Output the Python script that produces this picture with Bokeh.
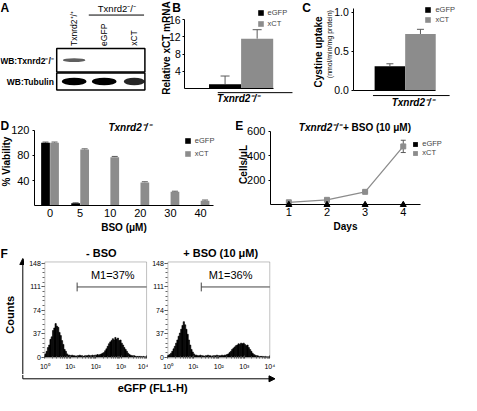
import numpy as np
from bokeh.plotting import figure
from bokeh.layouts import row, column
from bokeh.models import (Range1d, FixedTicker, Label, Arrow, NormalHead, TeeHead,
                          Whisker, ColumnDataSource, Legend, LegendItem, BoxAnnotation)
from bokeh.embed import file_html
from bokeh.resources import INLINE

FONT = "Liberation Sans"
BLACK = "#000000"
GRAY = "#8c8c8c"
ERRC = "#5a5a5a"

# ---------------- data ----------------
series = ["eGFP", "xCT"]
# A: western blot (relative band intensities per lane)
lanes = ["Txnrd2⁺/⁺", "eGFP", "xCT"]
blot_rows = ["WB:Tubulin", "WB:Txnrd2⁻/⁻"]
band_txnrd2 = [0.75, 0.0, 0.0]
band_tubulin = [1.0, 1.0, 0.85]
# B: relative xCT mRNA
mrna_mean = [1.0, 11.6]
mrna_err = [1.9, 2.1]
# C: cystine uptake
uptake_mean = [0.31, 0.72]
uptake_err = [0.03, 0.06]
# D: viability vs BSO
bso_doses = ["0", "5", "10", "20", "30", "40"]
via_egfp = [100, 4, 0, 0, 0, 0]
via_xct = [100, 89, 77, 37, 22, 8]
via_egfp_err = [1.0, 0.6, 0, 0, 0, 0]
via_xct_err = [1.0, 1.2, 1.2, 1.0, 1.0, 1.0]
# E: growth with BSO (10 uM)
days = [1, 2, 3, 4]
cells_egfp = [0, 0, 0, 0]
cells_xct = [20, 40, 105, 475]
cells_xct_err = [3, 4, 5, 50]
# F: flow cytometry histograms (80 log-bins over 10^0..10^4)
hist_minus_bso = [5, 9, 15, 19, 28, 32, 42, 46, 53, 49, 47, 39, 34, 26, 20, 12, 9, 5, 3, 3,
                  2, 3, 2, 2, 1, 2, 2, 3, 2, 2, 1, 2, 2, 2, 3, 2, 2, 3, 2, 3, 3, 4, 3, 4, 5, 6,
                  7, 10, 13, 17, 21, 24, 26, 29, 27, 31, 28, 30, 26, 27, 22, 19, 15, 12, 9, 6, 4, 3, 2, 2,
                  2, 1, 1, 1, 1, 1, 0, 1, 0, 0]
hist_plus_bso = [3, 4, 6, 9, 13, 17, 22, 27, 33, 38, 44, 50, 56, 51, 44, 36, 27, 19, 12, 8, 5, 3,
                 3, 2, 2, 3, 2, 2, 1, 2, 2, 3, 2, 2, 1, 2, 2, 2, 3, 2, 2, 2, 3, 2, 3, 3, 4, 5, 7, 9,
                 12, 14, 16, 18, 19, 21, 20, 22, 21, 22, 20, 18, 19, 15, 12, 9, 6, 4, 3, 2,
                 2, 1, 1, 1, 1, 0, 1, 0, 0, 0]
gate_pct = [37, 36]
gate_start = [1.27, 1.31]
gate_level = 111
count_ticks = [0, 37, 74, 111, 148]
decade_labels = ["10⁰", "10¹", "10²", "10³", "10⁴"]

# ---------------- layout helpers ----------------
S = 0.97
O = 4.0


def sc(v):
    return (v - O) * S


class Panel:
    """A figure whose plotting frame fills its whole box; axes are pinned at the
    edges of an inner 'plot area' (given in reference pixels) with fixed_location."""

    def __init__(self, box, area, xr, yr, xloc="below", yloc="left"):
        bx0, by0, bx1, by1 = box
        ax0, ay0, ax1, ay1 = area
        dx = (xr[1] - xr[0]) / (ax1 - ax0)
        dy = (yr[1] - yr[0]) / (ay1 - ay0)
        x_range = Range1d(xr[0] - (ax0 - bx0) * dx, xr[1] + (bx1 - ax1) * dx)
        y_range = Range1d(yr[0] - (by1 - ay1) * dy, yr[1] + (ay0 - by0) * dy)
        self.x0 = round(sc(bx0))
        self.y1 = round(sc(by1))
        W = round(sc(bx1)) - self.x0
        H = self.y1 - round(sc(by0))
        p = figure(width=W, height=H, x_range=x_range, y_range=y_range,
                   x_axis_location=xloc, y_axis_location=yloc,
                   output_backend="svg", toolbar_location=None,
                   min_border_left=0, min_border_right=0, min_border_top=0, min_border_bottom=0)
        if "frame_align" in p.properties():
            p.frame_align = False
        p.outline_line_color = None
        p.grid.visible = False
        p.background_fill_color = "white"
        p.border_fill_color = "white"
        for ax in p.yaxis:
            ax.fixed_location = xr[0]
        for ax in p.xaxis:
            ax.fixed_location = yr[1] if xloc == "above" else yr[0]
        self.p = p

    def sx(self, rx):
        return sc(rx) - self.x0

    def sy(self, ry):
        return self.y1 - sc(ry)

    def text(self, rx, ry, txt, size="10px", style="normal", align="center", angle=0.0,
             baseline="middle", color="black"):
        self.p.add_layout(Label(x=self.sx(rx), y=self.sy(ry), x_units="screen", y_units="screen",
                                text=txt, text_font=FONT, text_font_size=size,
                                text_font_style=style, text_align=align, text_baseline=baseline,
                                angle=angle, text_color=color))

    def letter(self, rx, ry, txt):
        self.text(rx, ry, txt, size="12px", style="bold", align="left", baseline="top")

    def line(self, rx0, ry0, rx1, ry1, head=False, color="black", width=1.0):
        end = NormalHead(size=6, fill_color=color, line_color=color, line_width=1) if head else None
        self.p.add_layout(Arrow(x_start=self.sx(rx0), y_start=self.sy(ry0),
                                x_end=self.sx(rx1), y_end=self.sy(ry1),
                                start_units="screen", end_units="screen", start=None, end=end,
                                line_color=color, line_width=width))

    def legend(self, items, rx, ry_bottom, glyph=7, size="7.5px", spacing=2):
        lg = Legend(items=[LegendItem(label=l, renderers=[r]) for l, r in items],
                    location=(self.sx(rx), self.sy(ry_bottom)), orientation="vertical",
                    glyph_width=glyph, glyph_height=glyph, label_height=glyph, label_width=10,
                    label_text_font=FONT, label_text_font_size=size, label_standoff=4,
                    spacing=spacing, padding=0, margin=0, border_line_color=None,
                    background_fill_alpha=0)
        self.p.add_layout(lg)


def style_axis(ax, size="11px", standoff=3):
    ax.major_label_text_font = FONT
    ax.major_label_text_font_size = size
    ax.major_label_text_color = "black"
    ax.axis_label_text_font = FONT
    ax.axis_label_text_font_size = "10px"
    ax.axis_label_text_font_style = "bold"
    ax.axis_label_text_color = "black"
    ax.major_label_standoff = standoff
    ax.major_tick_in = 0
    ax.major_tick_out = 2
    ax.minor_tick_in = 0
    ax.minor_tick_out = 0
    ax.axis_line_color = "black"
    ax.axis_line_width = 1


def hide_x_axis(ax, bounds):
    ax.ticker = FixedTicker(ticks=[])
    ax.major_tick_out = 0
    ax.minor_tick_out = 0
    ax.major_label_text_font_size = "0px"
    ax.axis_line_color = "black"
    ax.axis_line_width = 1.2
    ax.bounds = bounds


def bar_pair(P, xs, means, errs, width, head):
    rs = []
    for i, (name, col) in enumerate(zip(series, [BLACK, GRAY])):
        r = P.p.vbar(x=[xs[i]], top=[means[i]], width=width, fill_color=col, line_color=None)
        rs.append((name, r))
    src = ColumnDataSource(dict(x=list(xs), lower=list(means),
                                upper=[m + e for m, e in zip(means, errs)]))
    P.p.add_layout(Whisker(source=src, base="x", lower="lower", upper="upper", dimension="height",
                           lower_head=None, upper_head=TeeHead(size=head, line_color=ERRC, line_width=1),
                           line_color=ERRC, line_width=1))
    return rs


# ---------------- A: western blot ----------------
A = Panel((4, 4, 166, 124), (60, 53, 155, 97),
          ((60 - 80) / 31, (155 - 80) / 31), (-0.42, 1.58), xloc="above", yloc=None)
pA = A.p
lane_x = [float(i) for i in range(len(lanes))]
row_y = [float(i) for i in range(len(blot_rows))]
pA.rect(x=((62 + 153) / 2 - 80) / 31, y=row_y, width=91 / 31, height=[0.8, 1.1],
        fill_color="white", line_color="black", line_width=1.5)
pA.ellipse(x=lane_x, y=row_y[1], width=0.75, height=0.18, fill_color="#2a2a2a",
           fill_alpha=band_txnrd2, line_color=None)
pA.ellipse(x=lane_x, y=row_y[0], width=[0.82 * b for b in band_tubulin], height=0.36,
           fill_color="black", fill_alpha=band_tubulin, line_color=None)
xa = pA.xaxis[0]
style_axis(xa, size="8.5px", standoff=2)
xa.ticker = FixedTicker(ticks=lane_x)
xa.major_label_overrides = {i: l for i, l in enumerate(lanes)}
xa.major_label_orientation = "vertical"
xa.axis_line_color = None
xa.major_tick_out = 0
A.text(59, 66, blot_rows[1], size="8.5px", style="bold", align="right")
A.text(59, 88, blot_rows[0], size="8.5px", style="bold", align="right")
A.text(124, 12, "Txnrd2⁻/⁻", size="9.5px")
A.line(95, 19, 152, 19)
A.letter(4, 4.5, "A")

# ---------------- B: relative xCT mRNA ----------------
B = Panel((166, 4, 310, 124), (194, 10, 305, 95),
          ((194 - 252) / 33, (305 - 252) / 33), (0, 16 + (24 - 10) * 16 / 71))
pB = B.p
xsB = [i - 0.5 for i in range(len(series))]
rsB = bar_pair(B, xsB, mrna_mean, mrna_err, 1.0, 9)
ya = pB.yaxis[0]
style_axis(ya, size="10.5px", standoff=2)
ya.ticker = FixedTicker(ticks=[4, 8, 12, 16])
ya.bounds = (0, 16)
hide_x_axis(pB.xaxis[0], ((194 - 252) / 33, 1.0))
B.text(175, 53, "Relative xCT mRNA", size="10px", style="bold", angle=np.pi / 2)
B.line(228, 99, 305, 99)
B.text(249, 105, "Txnrd2⁻/⁻", size="10px", style="bold italic")
B.legend(rsB, 268.5, 32.5, spacing=2)
B.letter(181, 4.5, "B")

# ---------------- C: cystine uptake ----------------
C = Panel((310, 4, 477, 124), (368, 5, 475, 97),
          ((368 - 421) / 31.5, (475 - 421) / 31.5), (0, 1 + (16 - 5) / 81))
pC = C.p
rsC = bar_pair(C, xsB, uptake_mean, uptake_err, 1.0, 7)
ya = pC.yaxis[0]
style_axis(ya, size="10.5px", standoff=3)
ya.ticker = FixedTicker(ticks=[0, 0.5, 1.0])
ya.major_label_overrides = {0: "0.0", 0.5: "0.5", 1: "1.0"}
ya.bounds = (0, 1.04)
hide_x_axis(pC.xaxis[0], ((368 - 421) / 31.5, 1.0))
C.text(332, 57, "Cystine uptake", size="10px", style="bold", angle=np.pi / 2)
C.text(343, 49, "(nmol/min/mg protein)", size="7px", angle=np.pi / 2)
C.line(388, 102, 467, 102)
C.text(429, 109, "Txnrd2⁻/⁻", size="10px", style="bold italic")
C.legend(rsC, 441.5, 28.5, spacing=1)
C.letter(315, 4.5, "C")

# ---------------- D: viability ----------------
D = Panel((4, 124, 246, 256), (39, 126, 235, 216),
          ((39 - 55) / 31, (235 - 55) / 31), (0, 120 + (138 - 126) / 0.65))
pD = D.p
gi = np.arange(len(bso_doses))
rD_e = pD.vbar(x=gi - 0.15, top=via_egfp, width=0.29, fill_color=BLACK, line_color=None)
rD_x = pD.vbar(x=gi + 0.15, top=via_xct, width=0.29, fill_color=GRAY, line_color=None)
ex = [float(g - 0.15) for g, e in zip(gi, via_egfp_err) if e > 0] + \
     [float(g + 0.15) for g, e in zip(gi, via_xct_err) if e > 0]
elo = [v for v, e in zip(via_egfp, via_egfp_err) if e > 0] + [v for v, e in zip(via_xct, via_xct_err) if e > 0]
ehi = [v + e for v, e in zip(via_egfp, via_egfp_err) if e > 0] + \
      [v + e for v, e in zip(via_xct, via_xct_err) if e > 0]
pD.add_layout(Whisker(source=ColumnDataSource(dict(x=ex, lower=elo, upper=ehi)), base="x",
                      lower="lower", upper="upper", dimension="height", lower_head=None,
                      upper_head=TeeHead(size=6, line_color=ERRC, line_width=1),
                      line_color=ERRC, line_width=1))
ya = pD.yaxis[0]
style_axis(ya, size="11px", standoff=3)
ya.ticker = FixedTicker(ticks=[40, 80, 120])
ya.bounds = (0, 120)
xa = pD.xaxis[0]
style_axis(xa, size="11px", standoff=3)
xa.ticker = FixedTicker(ticks=[float(g) for g in gi])
xa.major_label_overrides = {int(g): d for g, d in zip(gi, bso_doses)}
xa.major_tick_out = 0
xa.bounds = ((39 - 55) / 31, (223 - 55) / 31)
xa.axis_label = "BSO (μM)"
xa.axis_label_standoff = 2
D.text(10, 170, "% Viability", size="10px", style="bold", angle=np.pi / 2)
D.text(137, 135, "Txnrd2⁻/⁻", size="10px", style="bold italic")
D.legend([("eGFP", rD_e), ("xCT", rD_x)], 193.5, 167, spacing=4)
D.letter(4, 126, "D")

# ---------------- E: growth ----------------
kx = (419 - 301) / 3
ky = (215 - 139) / 600
E = Panel((246, 124, 477, 256), (282, 126, 470, 215),
          (1 - (301 - 282) / kx, 4 + (470 - 419) / kx),
          (0, 600 + (139 - 126) / ky))
pE = E.p
pE.line(days, cells_xct, line_color=GRAY, line_width=1.3)
pE.scatter(days, cells_xct, marker="square", size=5, color=GRAY)
pE.scatter(days, cells_egfp, marker="triangle", size=6, color=BLACK)
pE.add_layout(Whisker(source=ColumnDataSource(dict(x=days, lower=[v - e for v, e in zip(cells_xct, cells_xct_err)],
                                                   upper=[v + e for v, e in zip(cells_xct, cells_xct_err)])),
                      base="x", lower="lower", upper="upper", dimension="height",
                      lower_head=TeeHead(size=5, line_color=ERRC, line_width=1),
                      upper_head=TeeHead(size=5, line_color=ERRC, line_width=1),
                      line_color=ERRC, line_width=1))
lgE_e = pE.vbar(x=days, top=cells_egfp, width=0.2, fill_color=BLACK, line_color=None, visible=False)
lgE_x = pE.vbar(x=days, top=cells_xct, width=0.2, fill_color=GRAY, line_color=None, visible=False)
ya = pE.yaxis[0]
style_axis(ya, size="11px", standoff=3)
ya.ticker = FixedTicker(ticks=[200, 400, 600])
ya.bounds = (0, 600)
xa = pE.xaxis[0]
style_axis(xa, size="11px", standoff=3)
xa.ticker = FixedTicker(ticks=days)
xa.major_tick_out = 0
xa.bounds = (1 - (301 - 282) / kx, 1 + (437 - 301) / kx)
xa.axis_label = "Days"
xa.axis_label_standoff = 2
E.text(255, 173, "Cells/μL", size="10px", style="bold", angle=np.pi / 2)
E.text(355, 135, "Txnrd2⁻/⁻", size="10px", style="bold italic", align="right")
E.text(357, 135, "+ BSO (10 μM)", size="10px", style="bold", align="left")
E.legend([("eGFP", lgE_e), ("xCT", lgE_x)], 429, 166, glyph=6, size="7.5px", spacing=0)
E.letter(246, 126, "E")

# ---------------- F: flow cytometry ----------------
yk = (372 - 275.7) / 148
yr0 = -(373 - 372) / yk
yr1 = 148 + (275.7 - 274) / yk


def hist_panel(box, area, counts, pct, gstart, text_x, title, title_x):
    P = Panel(box, area, (0, 4), (yr0, yr1))
    p = P.p
    edges = np.linspace(0, 4, len(counts) + 1)
    p.quad(left=edges[:-1], right=edges[1:], bottom=0, top=counts,
           fill_color=BLACK, line_color=BLACK, line_width=0.6)
    p.segment(x0=[gstart, gstart], y0=[gate_level, gate_level - 7], x1=[4, gstart],
              y1=[gate_level, gate_level + 7], line_color="#444444", line_width=1)
    p.add_layout(Label(x=text_x, y=130, text=f"M1={pct}%", text_font=FONT, text_font_size="11px",
                       text_align="center", text_baseline="middle", text_color="black"))
    p.add_layout(BoxAnnotation(left=0, right=4, bottom=yr0, top=yr1, fill_alpha=0,
                               line_color="#333333", line_width=1))
    ya = p.yaxis[0]
    style_axis(ya, size="7px", standoff=1)
    ya.ticker = FixedTicker(ticks=count_ticks,
                            minor_ticks=[float(v) for v in np.arange(0, 148.1, 7.4)])
    ya.major_tick_out = 3
    ya.minor_tick_out = 2
    ya.axis_line_color = None
    ya.major_tick_line_color = "#444444"
    ya.minor_tick_line_color = "#666666"
    xa = p.xaxis[0]
    style_axis(xa, size="7px", standoff=5)
    xa.ticker = FixedTicker(ticks=[0, 1, 2, 3, 4],
                            minor_ticks=[d + float(np.log10(k)) for d in range(4) for k in range(2, 10)])
    xa.major_label_overrides = {i: l for i, l in enumerate(decade_labels)}
    xa.major_tick_out = 0
    xa.major_tick_in = 3
    xa.minor_tick_in = 2
    xa.axis_line_color = None
    xa.major_tick_line_color = "#444444"
    xa.minor_tick_line_color = "#666666"
    P.text(title_x, 264, title, size="11px", style="bold")
    return P


FL = Panel((4, 256, 29, 390), (4, 256, 29, 390), (0, 1), (0, 1), xloc=None, yloc=None)
FL.letter(4, 258, "F")
FL.text(14, 328, "Counts", size="11px", style="bold", angle=np.pi / 2)
FL.line(27, 390, 27, 270, head=True)

H1 = hist_panel((29, 256, 157, 390), (50, 274, 155, 373), hist_minus_bso, gate_pct[0],
                gate_start[0], 2.67, "- BSO", 108)
H2 = hist_panel((157, 256, 292, 390), (177, 274, 282, 373), hist_plus_bso, gate_pct[1],
                gate_start[1], 2.46, "+ BSO (10 μM)", 231)

FB = Panel((4, 390, 292, 410), (4, 390, 292, 410), (0, 1), (0, 1), xloc=None, yloc=None)
FB.line(27, 390, 27, 394)
FB.line(27, 394, 287, 394, head=True)
FB.text(161, 403, "eGFP (FL1-H)", size="11px", style="bold")

layout = column(
    row(A.p, B.p, C.p),
    row(D.p, E.p),
    row(FL.p, H1.p, H2.p),
    FB.p,
)

open("out.html", "w").write(file_html(layout, INLINE, title="Txnrd2 xCT figure"))
